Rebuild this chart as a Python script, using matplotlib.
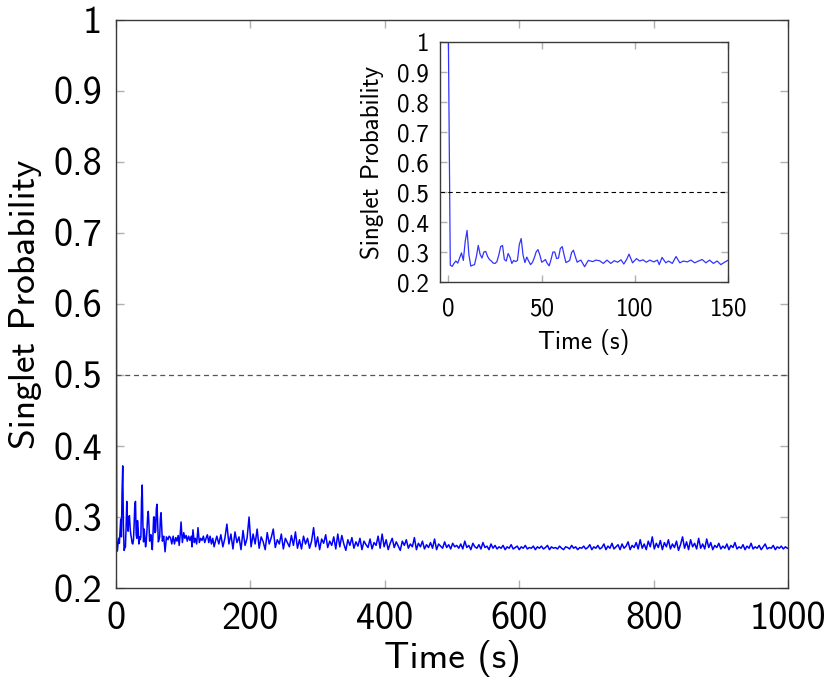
import matplotlib.pyplot as plt
import numpy as np

# 早期数据 (0-150 s)，从插图读出
t_early = [0, 1, 2, 3, 4, 5, 6, 7, 8, 9, 10, 11, 12, 13, 14, 15, 16, 17, 18, 19,
           20, 21, 22, 23, 24, 25, 26, 27, 28, 29, 30, 31, 32, 33, 34, 35, 36, 37,
           38, 39, 40, 41, 42, 43, 44, 45, 46, 47, 48, 49, 50, 51, 52, 53, 54, 55,
           56, 57, 58, 59, 60, 61, 62, 63, 64, 65, 66, 67, 68, 69, 70, 71, 72, 73,
           74, 75, 77.4, 79, 81, 83, 85, 87, 88.9, 90.7, 92.5, 94,
           95.5, 96.8, 98.7, 100.8, 102.5, 104.3, 106, 108, 110, 112, 113, 114.5,
           116.5, 118, 120, 122, 124, 126, 128, 130, 132, 134, 136, 138, 140, 142,
           144, 146, 148, 150]
p_early = [1.0, 0.256, 0.252, 0.262, 0.270, 0.263, 0.280, 0.297, 0.272, 0.335,
           0.372, 0.290, 0.253, 0.256, 0.258, 0.285, 0.322, 0.292, 0.280, 0.300,
           0.302, 0.285, 0.275, 0.270, 0.263, 0.262, 0.268, 0.290, 0.318, 0.322,
           0.275, 0.270, 0.295, 0.283, 0.262, 0.272, 0.268, 0.272, 0.325, 0.345,
           0.290, 0.265, 0.283, 0.270, 0.258, 0.265, 0.280, 0.300, 0.308, 0.290,
           0.266, 0.270, 0.275, 0.262, 0.254, 0.275, 0.300, 0.300, 0.278, 0.280,
           0.312, 0.318, 0.290, 0.265, 0.268, 0.272, 0.298, 0.306, 0.285, 0.266,
           0.270, 0.273, 0.262, 0.251, 0.262, 0.272, 0.268, 0.273, 0.271, 0.262,
           0.273, 0.262, 0.271, 0.266, 0.274, 0.260, 0.275, 0.293, 0.264, 0.278,
           0.270, 0.274, 0.266, 0.273, 0.267, 0.273, 0.258, 0.282, 0.264, 0.270,
           0.262, 0.285, 0.264, 0.270, 0.267, 0.273, 0.264, 0.270, 0.275, 0.264,
           0.273, 0.262, 0.270, 0.258, 0.266, 0.273]

# 后期数据 (153-999 s)，每 3 s 一个点
p_late = [
    0.262, 0.275, 0.258, 0.270, 0.290, 0.262, 0.276, 0.255, 0.279, 0.264, 0.272, 0.254, 0.281, 0.260, 0.270, 0.300, 0.258, 0.276, 0.262, 0.283,
    0.256, 0.272, 0.265, 0.254, 0.278, 0.262, 0.271, 0.283, 0.257, 0.268, 0.262, 0.276, 0.255, 0.270, 0.264, 0.258, 0.274, 0.260, 0.279, 0.256,
    0.268, 0.255, 0.273, 0.262, 0.270, 0.256, 0.266, 0.285, 0.258, 0.272, 0.254, 0.269, 0.263, 0.275, 0.257, 0.266, 0.260, 0.272, 0.255, 0.276,
    0.258, 0.274, 0.262, 0.253, 0.268, 0.260, 0.271, 0.256, 0.265, 0.259, 0.270, 0.254, 0.266, 0.261, 0.257, 0.269, 0.255, 0.264, 0.260, 0.273,
    0.256, 0.276, 0.258, 0.268, 0.254, 0.263, 0.270, 0.257, 0.265, 0.259, 0.253, 0.266, 0.260, 0.268, 0.256, 0.262, 0.258, 0.271, 0.254, 0.263,
    0.258, 0.266, 0.255, 0.261, 0.257, 0.264, 0.256, 0.269, 0.254, 0.262, 0.259, 0.256, 0.265, 0.257, 0.261, 0.255, 0.263, 0.258, 0.260, 0.256,
    0.262, 0.255, 0.266, 0.257, 0.260, 0.254, 0.263, 0.258, 0.256, 0.261, 0.255, 0.264, 0.257, 0.259, 0.254, 0.262, 0.256, 0.260, 0.255, 0.258,
    0.256, 0.260, 0.254, 0.258, 0.256, 0.261, 0.255, 0.257, 0.259, 0.254, 0.258, 0.256, 0.260, 0.255, 0.257, 0.256, 0.259, 0.254, 0.258, 0.256,
    0.259, 0.255, 0.257, 0.260, 0.254, 0.258, 0.256, 0.257, 0.255, 0.259, 0.256, 0.254, 0.258, 0.257, 0.255, 0.260, 0.256, 0.258, 0.254, 0.257,
    0.256, 0.259, 0.255, 0.257, 0.261, 0.254, 0.258, 0.256, 0.260, 0.255, 0.257, 0.262, 0.254, 0.259, 0.256, 0.263, 0.255, 0.258, 0.261, 0.254,
    0.262, 0.256, 0.259, 0.265, 0.254, 0.260, 0.257, 0.264, 0.255, 0.268, 0.256, 0.262, 0.254, 0.266, 0.258, 0.272, 0.255, 0.263, 0.257, 0.267,
    0.254, 0.264, 0.258, 0.268, 0.255, 0.262, 0.257, 0.266, 0.253, 0.261, 0.272, 0.256, 0.265, 0.254, 0.268, 0.258, 0.263, 0.255, 0.270, 0.256,
    0.262, 0.255, 0.269, 0.257, 0.264, 0.254, 0.260, 0.257, 0.263, 0.255, 0.259, 0.256, 0.262, 0.254, 0.260, 0.257, 0.264, 0.255, 0.258, 0.256,
    0.261, 0.254, 0.259, 0.256, 0.263, 0.255, 0.258, 0.256, 0.260, 0.254, 0.258, 0.262, 0.255, 0.257, 0.256, 0.260, 0.254, 0.258, 0.256, 0.259,
    0.255, 0.258, 0.256,
]
t_late = 153 + 3 * np.arange(len(p_late))

t_all = np.concatenate([t_early, t_late])
p_all = np.concatenate([p_early, p_late])

y_ticks = [0.2, 0.3, 0.4, 0.5, 0.6, 0.7, 0.8, 0.9, 1.0]
x_ticks_main = [0, 200, 400, 600, 800, 1000]
x_ticks_inset = [0, 50, 100, 150]
threshold = 0.5

plt.rcParams['font.family'] = ['cmss10', 'DejaVu Sans']
plt.rcParams['axes.unicode_minus'] = False
plt.rcParams['axes.formatter.use_mathtext'] = False

fig = plt.figure(figsize=(8.31, 6.87), dpi=100)


def style_axes(ax, fs, pad, tlen):
    for spine in ax.spines.values():
        spine.set_color('#3a3a3a')
        spine.set_linewidth(1.0)
    ax.tick_params(direction='in', which='both', top=True, right=True,
                   color='#b0b0b0', width=1.0, length=tlen,
                   labelsize=fs, pad=pad, labelcolor='black')


# 主图
ax = fig.add_axes([0.1396, 0.1441, 0.8087, 0.8268])
ax.plot(t_all, p_all, color='#0000ff', lw=1.1)
ax.axhline(threshold, color='#555555', lw=0.9, ls=(0, (4, 3)))
ax.set_xlim(0, 1000)
ax.set_ylim(0.2, 1.0)
ax.set_xticks(x_ticks_main)
ax.set_xticklabels(['{:g}'.format(v) for v in x_ticks_main])
ax.set_yticks(y_ticks)
ax.set_yticklabels(['{:g}'.format(v) for v in y_ticks])
style_axes(ax, 27.5, 10, 6)
ax.set_xlabel('Time (s)', fontsize=27, labelpad=2)
ax.set_ylabel('Singlet Probability', fontsize=27, labelpad=8)

# 插图
axi = fig.add_axes([0.5295, 0.5895, 0.3469, 0.3493])
axi.plot(t_all, p_all, color='#3333ff', lw=0.9)
axi.axhline(threshold, color='black', lw=0.8, ls=(0, (4, 3)))
axi.set_xlim(-4.5, 150)
axi.set_ylim(0.2, 1.0)
axi.set_xticks(x_ticks_inset)
axi.set_xticklabels(['{:g}'.format(v) for v in x_ticks_inset])
axi.set_yticks(y_ticks)
axi.set_yticklabels(['{:g}'.format(v) for v in y_ticks])
style_axes(axi, 18, 8, 5)
axi.tick_params(axis='x', pad=11)
axi.set_xlabel('Time (s)', fontsize=18, labelpad=6)
axi.set_ylabel('Singlet Probability', fontsize=18, labelpad=9)

fig.savefig('out.png', dpi=100)
